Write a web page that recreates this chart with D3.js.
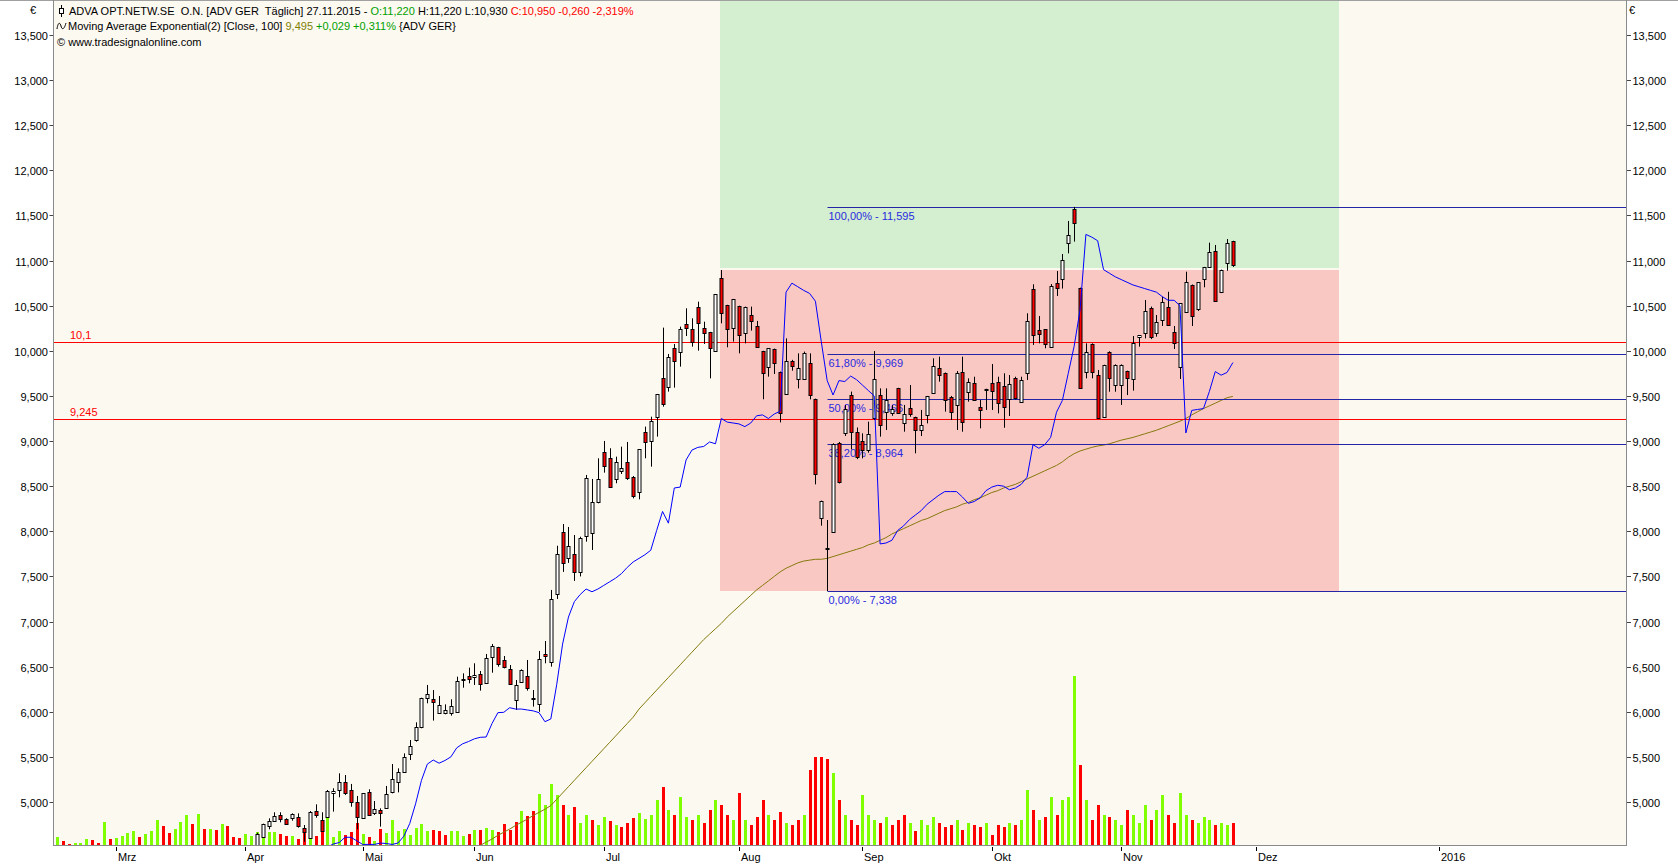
<!DOCTYPE html>
<html><head><meta charset="utf-8">
<script src="https://cdn.jsdelivr.net/npm/d3@7"></script>
<style>
html,body{margin:0;padding:0;background:#fff;}
svg{display:block;font-family:"Liberation Sans",Arial,sans-serif;font-size:11px;}
text{white-space:pre;}
</style></head><body><svg id="c" width="1678" height="864"></svg>
<script>
// ---------- DATA ----------
const firstDay = "2015-02-16";
const lastDay = "2015-11-27";
const holidays = ["2015-04-03","2015-04-06","2015-05-01","2015-05-25"];

const openP = [3.95,3.97,3.95,3.94,3.98,4.01,4.04,4.00,3.98,4.12,4.07,4.11,4.15,4.20,4.25,4.20,4.24,4.28,4.37,4.28,4.23,4.28,4.35,4.42,4.33,4.44,4.38,4.42,4.36,4.44,4.38,4.35,4.32,4.38,
4.500,4.609,4.738,4.793,4.856,4.808,4.826,4.837,4.716,4.605,4.900,4.801,4.837,5.096,5.133,5.218,5.133,4.996,4.826,5.107,4.882,4.911,4.937,5.115,5.225,5.336,5.528,5.687,5.835,6.156,6.138,5.990,5.990,5.990,6.001,6.352,6.396,6.389,6.415,6.315,6.611,6.714,6.574,6.474,6.130,6.334,6.396,6.156,6.082,6.637,
6.550,7.300,7.989,7.700,7.750,7.550,7.952,7.978,8.329,8.879,8.809,8.576,8.672,8.764,8.598,8.439,9.097,9.004,9.270,9.695,9.595,10.028,9.991,10.294,10.238,10.490,10.249,10.205,10.002,10.803,10.508,10.257,10.497,10.194,10.397,10.275,9.998,9.825,10.020,9.762,
9.518,9.887,9.688,9.684,9.861,9.466,8.151,7.820,7.996,8.975,9.093,9.511,9.104,9.000,8.901,9.252,9.511,9.322,9.307,9.584,9.196,9.363,9.270,9.123,9.289,9.529,9.806,9.750,9.492,9.400,9.769,9.540,9.640,9.374,9.575,9.640,9.651,9.610,9.466,9.695,
9.437,9.751,10.682,10.231,10.238,10.046,10.748,10.792,11.191,11.568,10.693,9.769,10.076,9.732,9.270,9.991,9.621,9.621,9.776,9.684,10.150,10.194,10.471,10.194,10.337,10.490,10.205,9.817,10.434,10.730,10.463,10.792,10.925,11.110,10.648,10.970,11.220];

const highP = [4.00,4.02,3.98,4.00,4.03,4.06,4.06,4.02,4.15,4.14,4.13,4.17,4.22,4.27,4.26,4.26,4.30,4.40,4.38,4.30,4.30,4.38,4.45,4.44,4.46,4.46,4.44,4.43,4.46,4.45,4.40,4.37,4.40,4.52,
4.660,4.760,4.819,4.886,4.886,4.820,4.874,4.874,4.745,4.900,4.974,4.886,5.133,5.152,5.318,5.299,5.200,5.067,5.100,5.141,5.011,4.930,5.178,5.421,5.373,5.539,5.687,5.883,6.156,6.297,6.241,6.175,6.082,6.138,6.389,6.426,6.489,6.537,6.452,6.640,6.751,6.720,6.618,6.518,6.352,6.470,6.574,6.241,6.674,6.784,
7.350,7.840,8.081,8.048,7.959,7.940,8.624,8.580,8.809,9.001,8.920,8.827,8.938,8.990,8.613,8.908,9.160,9.270,9.522,10.257,9.965,10.076,10.268,10.471,10.360,10.545,10.323,10.210,10.630,10.896,10.510,10.575,10.500,10.490,10.490,10.331,10.000,10.030,10.025,9.770,
10.138,9.900,9.972,9.991,9.972,9.470,8.340,8.125,8.975,8.990,9.400,9.548,9.150,9.086,9.215,9.998,9.584,9.584,9.400,9.590,9.400,9.621,9.270,9.345,9.500,9.917,9.935,9.760,9.500,9.776,9.935,9.695,9.713,9.455,9.580,9.854,9.713,9.751,9.732,9.713,
9.713,10.416,10.737,10.386,10.240,10.740,10.885,11.073,11.439,11.595,10.700,10.083,10.083,9.787,9.846,9.995,9.850,9.850,9.780,10.164,10.175,10.563,10.490,10.397,10.600,10.655,10.275,10.530,10.877,10.735,10.760,10.930,11.199,11.173,10.900,11.239,11.220];

const lowP = [3.90,3.93,3.91,3.92,3.96,3.99,3.98,3.96,3.97,4.05,4.05,4.09,4.13,4.18,4.18,4.19,4.22,4.27,4.25,4.20,4.21,4.27,4.33,4.30,4.32,4.36,4.36,4.34,4.35,4.35,4.33,4.30,4.31,4.37,
4.450,4.600,4.697,4.782,4.775,4.750,4.793,4.716,4.560,4.597,4.826,4.680,4.830,4.893,5.052,5.078,4.948,4.697,4.820,4.849,4.856,4.727,4.930,5.096,5.107,5.336,5.465,5.669,5.817,6.094,5.902,5.990,5.972,5.957,6.000,6.267,6.315,6.297,6.234,6.310,6.433,6.500,6.481,6.300,6.020,6.323,6.234,6.057,6.000,6.537,
6.500,7.250,7.550,7.650,7.450,7.500,7.885,7.793,8.310,8.650,8.495,8.532,8.635,8.569,8.365,8.354,8.809,8.716,9.049,9.381,9.548,9.592,9.825,10.164,10.046,10.002,10.076,9.695,9.991,10.305,10.039,10.102,9.972,10.083,10.224,10.040,9.463,9.714,9.743,9.207,
9.518,9.780,9.584,9.680,9.462,8.520,8.062,7.338,7.990,8.530,9.056,8.908,8.800,8.808,8.871,9.233,9.049,9.123,9.280,9.300,9.104,9.270,8.864,9.056,9.196,9.529,9.658,9.326,9.233,9.123,9.104,9.437,9.450,9.141,9.345,9.344,9.307,9.148,9.278,9.462,
9.430,9.677,10.065,10.083,10.028,10.046,10.608,10.690,11.080,11.210,9.580,9.695,9.695,9.250,9.265,9.547,9.547,9.400,9.510,9.559,10.046,10.138,10.130,10.157,10.275,10.280,10.020,9.688,10.430,10.275,10.441,10.704,10.920,10.550,10.640,10.888,10.930];

const closeP = [3.97,3.95,3.94,3.98,4.01,4.04,4.00,3.98,4.12,4.07,4.11,4.15,4.20,4.25,4.20,4.24,4.28,4.37,4.28,4.23,4.28,4.35,4.42,4.33,4.44,4.38,4.42,4.36,4.44,4.38,4.35,4.32,4.38,4.48,
4.645,4.753,4.790,4.845,4.815,4.753,4.863,4.738,4.664,4.886,4.856,4.682,5.122,5.122,5.218,5.096,5.004,4.837,5.096,4.856,4.923,4.874,5.085,5.251,5.329,5.495,5.624,5.828,6.149,6.193,6.112,6.075,6.020,6.064,6.341,6.367,6.359,6.407,6.304,6.592,6.729,6.526,6.493,6.304,6.297,6.463,6.260,6.138,6.581,6.622,
7.250,7.750,7.650,7.841,7.550,7.922,8.587,8.321,8.576,8.727,8.495,8.772,8.698,8.587,8.395,8.908,8.986,9.222,9.522,9.407,9.928,9.891,10.238,10.257,10.098,10.305,10.201,10.028,10.626,10.416,10.242,10.571,10.176,10.490,10.334,10.046,9.751,10.028,9.862,9.307,
9.887,9.835,9.813,9.980,9.510,8.631,8.336,7.800,8.963,8.550,9.352,9.104,8.827,8.901,9.078,9.684,9.178,9.455,9.352,9.307,9.296,9.296,9.123,9.178,9.499,9.832,9.732,9.455,9.326,9.758,9.207,9.658,9.455,9.344,9.570,9.558,9.425,9.381,9.632,9.474,
9.677,10.331,10.175,10.186,10.076,10.718,10.700,11.005,11.284,11.420,9.592,9.983,9.769,9.252,9.843,9.695,9.843,9.843,9.695,10.083,10.175,10.441,10.150,10.323,10.538,10.286,10.083,10.526,10.759,10.389,10.759,10.925,11.091,10.552,10.896,11.200,10.950];

// volume (thousand shares)
const volume = [83,40,10,23,23,60,50,23,233,60,73,93,123,140,83,110,140,250,190,123,160,233,300,210,310,160,160,150,210,190,83,73,110,93,127,83,133,133,110,90,90,60,133,73,90,133,290,83,140,100,133,217,110,83,40,160,123,250,140,160,100,173,210,140,150,140,100,140,140,90,110,150,150,173,150,133,210,150,227,340,290,340,510,400,610,
500,400,300,380,220,300,250,200,280,240,200,180,220,270,320,260,300,450,580,350,300,480,280,250,300,220,350,450,400,300,250,520,250,200,280,450,300,250,330,220,200,250,300,750,880,880,860,720,450,300,250,200,500,300,250,220,280,200,250,300,220,140,250,200,280,220,180,200,250,150,220,200,180,220,100,200,180,220,200,250,550,350,250,280,480,300,450,480,1690,800,450,250,400,300,280,250,200,350,300,220,400,250,350,500,300,220,520,300,250,220,280,250,200,220,200,220];

// blue line (starts at bar 44)
const blueStart = 44;
const blueLine = [4.40,4.45,4.50,4.535,4.55,4.609,4.609,4.57,4.53,4.53,4.53,4.545,4.54,4.53,4.545,4.62,4.76,4.98,5.24,5.42,5.465,5.43,5.46,5.50,5.60,5.645,5.67,5.70,5.717,5.72,5.87,5.99,5.994,6.045,6.03,6.03,6.02,6.01,5.99,5.89,5.92,6.30,6.75,7.05,7.22,7.30,7.36,7.33,7.36,7.40,7.44,7.48,7.53,7.60,7.66,7.70,7.74,7.79,8.01,8.22,8.09,8.48,8.49,8.79,8.90,8.93,8.94,8.99,8.97,9.25,9.21,9.20,9.19,9.16,9.20,9.28,9.29,9.25,9.30,9.33,10.65,10.75,10.71,10.67,10.637,10.55,10.10,9.67,9.51,9.67,9.66,9.72,9.68,9.62,9.56,9.50,7.86,7.87,7.90,8.01,8.06,8.13,8.18,8.23,8.30,8.35,8.40,8.44,8.44,8.44,8.38,8.31,8.33,8.37,8.45,8.49,8.51,8.50,8.46,8.48,8.52,8.60,8.96,8.92,8.96,9.04,9.32,9.45,9.75,10.05,10.45,11.29,11.26,11.22,10.90,10.86,10.82,10.79,10.76,10.73,10.71,10.69,10.67,10.65,10.60,10.56,10.56,10.50,9.09,9.34,9.35,9.36,9.55,9.77,9.73,9.76,9.87];

// EMA(100) (starts at bar 70)
const emaStart = 70;
const ema100 = [4.45,4.485,4.52,4.555,4.59,4.63,4.665,4.70,4.74,4.775,4.81,4.85,4.885,4.92,4.96,5.03,5.10,5.17,5.24,5.31,5.38,5.45,5.52,5.59,5.66,5.73,5.80,5.87,5.94,6.03,6.10,6.17,6.24,6.31,6.38,6.45,6.52,6.59,6.66,6.73,6.80,6.86,6.92,6.98,7.05,7.11,7.17,7.23,7.29,7.35,7.40,7.45,7.50,7.55,7.59,7.62,7.65,7.67,7.68,7.69,7.69,7.70,7.72,7.74,7.76,7.78,7.80,7.82,7.85,7.87,7.90,7.93,7.97,8.00,8.03,8.06,8.09,8.12,8.14,8.17,8.20,8.23,8.25,8.27,8.30,8.32,8.35,8.37,8.40,8.43,8.45,8.48,8.50,8.52,8.55,8.58,8.61,8.64,8.67,8.70,8.73,8.77,8.82,8.86,8.89,8.91,8.93,8.945,8.955,8.97,8.99,9.01,9.025,9.04,9.06,9.08,9.10,9.12,9.145,9.17,9.195,9.22,9.25,9.29,9.325,9.36,9.39,9.42,9.45,9.48,9.495];

const hLevels = [10.1, 9.245];
const hLabels = ["10,1", "9,245"];

const fibLow = 7.338, fibHigh = 11.595, fibStartDate = "2015-08-24";
const fibRatios = [1, 0.618, 0.5, 0.382, 0];
const fibTexts = ["100,00% - 11,595", "61,80% - 9,969", "50,00% - 9,466", "38,20% - 8,964", "0,00% - 7,338"];

const boxStartDate = "2015-07-29", boxEndDate = "2015-12-15";
const boxEntry = 10.912, boxStop = 7.338, boxTarget = 14.486;

const yTicks = [5.0,5.5,6.0,6.5,7.0,7.5,8.0,8.5,9.0,9.5,10.0,10.5,11.0,11.5,12.0,12.5,13.0,13.5];
const monthLabels = ["Mrz","Apr","Mai","Jun","Jul","Aug","Sep","Okt","Nov","Dez","2016"];
const monthStarts = ["2015-03-01","2015-04-01","2015-05-01","2015-06-01","2015-07-01","2015-08-01","2015-09-01","2015-10-01","2015-11-01","2015-12-01","2016-01-01"];

// ---------- CHART ----------
const W = 1678, H = 864;
const L = 53, R = 1626, T = 1, B = 845;
const svg = d3.select("#c");

const parse = d3.utcParse("%Y-%m-%d"), fmt = d3.utcFormat("%Y-%m-%d");
const dates = d3.utcDay.range(parse(firstDay), d3.utcDay.offset(parse(lastDay), 1))
  .filter(d => d.getUTCDay() !== 0 && d.getUTCDay() !== 6 && !holidays.includes(fmt(d)));
const n = dates.length;
function dateIndex(s) {
  const d = parse(s);
  const k = dates.findIndex(t => t >= d);
  if (k >= 0) return k;
  return (n - 1) + d3.utcDay.count(dates[n - 1], d);
}

const x = d3.scaleLinear().domain([0, n - 1]).range([56.9, 1232.9]);
const y = d3.scaleLinear().domain([5, 13.5]).range([802.0, 35.0]);
const yv = d3.scaleLinear().domain([0, 1000]).range([B, B - 100]);

svg.append("rect").attr("x", 0).attr("y", 0).attr("width", W).attr("height", H).attr("fill", "#fff");
svg.append("rect").attr("x", L).attr("y", T).attr("width", R - L).attr("height", B - T).attr("fill", "#fcf9f1");

svg.append("defs").append("clipPath").attr("id", "clip")
  .append("rect").attr("x", L + 1).attr("y", T).attr("width", R - L - 1).attr("height", B - T);
const g = svg.append("g").attr("clip-path", "url(#clip)");

// risk/reward boxes
const bx0 = x(dateIndex(boxStartDate)) - 1, bx1 = x(dateIndex(boxEndDate));
g.append("rect").attr("x", bx0).attr("width", bx1 - bx0)
  .attr("y", y(boxTarget)).attr("height", y(boxEntry) - y(boxTarget) - 1)
  .attr("fill", "#d3efcf").attr("shape-rendering", "crispEdges");
g.append("rect").attr("x", bx0).attr("width", bx1 - bx0)
  .attr("y", y(boxEntry) + 1).attr("height", y(boxStop) - y(boxEntry) - 1)
  .attr("fill", "#f9c8c3").attr("shape-rendering", "crispEdges");

// volume
g.append("g").selectAll("rect").data(volume).join("rect")
  .attr("x", (d, i) => Math.round(x(i)) - 1.5)
  .attr("width", 3.4)
  .attr("y", d => yv(d))
  .attr("height", d => B - yv(d))
  .attr("fill", (d, i) => closeP[i] >= (i > 0 ? closeP[i - 1] : openP[i]) ? "#80ff00" : "#ff0000")
  .attr("shape-rendering", "crispEdges");

// EMA line
const emaPts = ema100.map((v, k) => [emaStart + k, v]);
g.append("path").datum(emaPts)
  .attr("d", d3.line().x(d => x(d[0])).y(d => y(d[1])))
  .attr("fill", "none").attr("stroke", "#857a0c").attr("stroke-width", 1);

// fib lines
const fx0 = Math.round(x(dateIndex(fibStartDate))) + 0.5;
const fibG = g.append("g");
fibRatios.forEach((r, k) => {
  const v = fibLow + r * (fibHigh - fibLow);
  const yy = Math.round(y(v)) + 0.5;
  fibG.append("line").attr("x1", fx0).attr("x2", R).attr("y1", yy).attr("y2", yy)
    .attr("stroke", "#2525a8").attr("stroke-width", 1);
  fibG.append("text").attr("x", fx0 + 1).attr("y", yy + 12).attr("fill", "#2a2ae0").text(fibTexts[k]);
});

// horizontal red lines
hLevels.forEach((v, k) => {
  const yy = Math.round(y(v)) + 0.5;
  g.append("line").attr("x1", L).attr("x2", R).attr("y1", yy).attr("y2", yy)
    .attr("stroke", "#ff0000").attr("stroke-width", 1);
  g.append("text").attr("x", 70).attr("y", yy - 4).attr("fill", "#ff0000").text(hLabels[k]);
});

// candles
const cg = g.append("g");
d3.range(n).forEach(i => {
  const xc = Math.round(x(i)) + 0.5;
  cg.append("line").attr("x1", xc).attr("x2", xc)
    .attr("y1", y(highP[i])).attr("y2", y(lowP[i]))
    .attr("stroke", "#000").attr("stroke-width", 1);
  const up = closeP[i] >= openP[i];
  const yt = Math.round(y(Math.max(openP[i], closeP[i]))) + 0.5;
  const yb = Math.round(y(Math.min(openP[i], closeP[i]))) + 0.5;
  cg.append("rect").attr("x", xc - 1.5).attr("width", 3)
    .attr("y", yt).attr("height", Math.max(1, yb - yt))
    .attr("fill", up ? "#ffffff" : "#ff0000").attr("stroke", "#000").attr("stroke-width", 1);
});

// blue line
const bluePts = blueLine.map((v, k) => [blueStart + k, v]);
g.append("path").datum(bluePts)
  .attr("d", d3.line().x(d => x(d[0])).y(d => y(d[1])))
  .attr("fill", "none").attr("stroke", "#0000ff").attr("stroke-width", 1);

// frame / axes
const grey = "#8a8a8a";
svg.append("line").attr("x1", 0).attr("x2", W).attr("y1", 0.5).attr("y2", 0.5).attr("stroke", "#a0a0a0");
svg.append("line").attr("x1", L + 0.5).attr("x2", L + 0.5).attr("y1", 0).attr("y2", B).attr("stroke", grey);
svg.append("line").attr("x1", R + 0.5).attr("x2", R + 0.5).attr("y1", 0).attr("y2", B).attr("stroke", grey);
svg.append("line").attr("x1", L).attr("x2", R + 1).attr("y1", B + 0.5).attr("y2", B + 0.5).attr("stroke", grey);

const axL = svg.append("g"), axR = svg.append("g");
yTicks.forEach(v => {
  const yy = Math.round(y(v)) + 0.5;
  const lab = v.toFixed(3).replace(".", ",");
  axL.append("line").attr("x1", 49.5).attr("x2", L).attr("y1", yy).attr("y2", yy).attr("stroke", "#444");
  axL.append("text").attr("x", 48).attr("y", yy + 4).attr("text-anchor", "end").attr("fill", "#000").text(lab);
  axR.append("line").attr("x1", R + 1).attr("x2", R + 5).attr("y1", yy).attr("y2", yy).attr("stroke", "#444");
  axR.append("text").attr("x", R + 6.5).attr("y", yy + 4).attr("fill", "#000").text(lab);
});
svg.append("text").attr("x", 33).attr("y", 14).attr("text-anchor", "middle").text("€");
svg.append("text").attr("x", R + 3).attr("y", 14).text("€");

monthLabels.forEach((m, k) => {
  const xx = Math.round(x(dateIndex(monthStarts[k]))) + 0.5;
  svg.append("line").attr("x1", xx).attr("x2", xx).attr("y1", B + 2).attr("y2", B + 6).attr("stroke", "#000");
  svg.append("text").attr("x", xx + 1.5).attr("y", 861).text(m);
});

// legend
const lg = svg.append("g");
lg.append("line").attr("x1", 61.5).attr("x2", 61.5).attr("y1", 5).attr("y2", 17).attr("stroke", "#000");
lg.append("rect").attr("x", 59.5).attr("y", 8.5).attr("width", 4).attr("height", 5).attr("fill", "#fff").attr("stroke", "#000");
const t1 = lg.append("text").attr("x", 69).attr("y", 15);
t1.append("tspan").attr("fill", "#000").text("ADVA OPT.NETW.SE  O.N. [ADV GER  Täglich] 27.11.2015 - ");
t1.append("tspan").attr("fill", "#00a000").text("O:11,220");
t1.append("tspan").attr("fill", "#000").text(" H:11,220 L:10,930 ");
t1.append("tspan").attr("fill", "#ff0000").text("C:10,950 -0,260 -2,319%");

lg.append("path").attr("d", "M57,29 C58,22 60,22 61,26 C62,30 64,30 66,23")
  .attr("fill", "none").attr("stroke", "#000");
const t2 = lg.append("text").attr("x", 68).attr("y", 30);
t2.append("tspan").attr("fill", "#000").text("Moving Average Exponential(2) [Close, 100] ");
t2.append("tspan").attr("fill", "#808000").text("9,495");
t2.append("tspan").attr("fill", "#00a000").text(" +0,029 +0,311%");
t2.append("tspan").attr("fill", "#000").text(" {ADV GER}");

lg.append("text").attr("x", 57).attr("y", 46).attr("fill", "#000").text("© www.tradesignalonline.com");
</script></body></html>
